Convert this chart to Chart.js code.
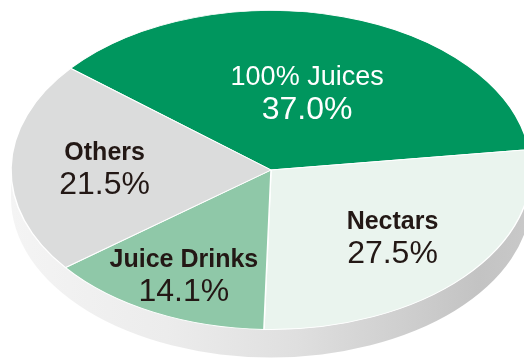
<!DOCTYPE html>
<html>
<head>
<meta charset="utf-8">
<script src="https://cdn.jsdelivr.net/npm/chart.js@4"></script>
<style>
  html, body { margin: 0; padding: 0; background: #fff; overflow: hidden; }
  #wrap { position: relative; width: 524px; height: 361px; }
</style>
</head>
<body>
<div id="wrap"><canvas id="pieChart" width="524" height="361"></canvas></div>
<script>
// juice market share, tilted pie

const categories = ['100% Juices', 'Nectars', 'Juice Drinks', 'Others'];
const shares = [37.0, 27.5, 14.1, 21.5];

const sliceColors = ['#00965e', '#eaf4ee', '#8fc8a8', '#dbdcdc'];
const textColors = ['#ffffff', '#231815', '#231815', '#231815'];
const nameFonts = ['normal 27px', 'bold 25px', 'bold 25px', 'bold 25px'];
const labelRadius = [0.5, 0.63, 0.74, 0.64]; // fraction of radius along mid angle

const tilt = 159.5 / 260;  // vertical squash of the disc
const depth = 28;          // thickness of the side, px

const tiltPlugin = {
  id: 'tilt',
  beforeDatasetsDraw(chart) {
    const arc = chart.getDatasetMeta(0).data[0];
    const { x, y, outerRadius: r } = arc;
    const ctx = chart.ctx;
    ctx.save();
    ctx.translate(x, y);
    ctx.scale(1, tilt);
    ctx.translate(-x, -y);

    // side band of the disc
    const d = depth / tilt;
    const g = ctx.createLinearGradient(x - r, 0, x + r, 0);
    g.addColorStop(0, '#f4f4f4');
    g.addColorStop(0.3, '#ececec');
    g.addColorStop(0.55, '#dfdfdf');
    g.addColorStop(0.9, '#c3c3c3');
    g.addColorStop(1, '#c9c9c9');
    ctx.fillStyle = g;
    ctx.beginPath();
    ctx.arc(x, y, r, 0, Math.PI);
    ctx.arc(x, y + d, r, Math.PI, 0, true);
    ctx.closePath();
    ctx.fill();
  },
  afterDatasetsDraw(chart) {
    const ctx = chart.ctx;
    ctx.restore();

    const meta = chart.getDatasetMeta(0);
    ctx.save();
    ctx.textAlign = 'center';
    ctx.textBaseline = 'alphabetic';
    meta.data.forEach((arc, i) => {
      const mid = (arc.startAngle + arc.endAngle) / 2;
      const rr = arc.outerRadius * labelRadius[i];
      const px = arc.x + Math.cos(mid) * rr;
      const py = arc.y + Math.sin(mid) * rr * tilt;
      ctx.fillStyle = textColors[i];
      ctx.font = nameFonts[i] + ' "Liberation Sans", Arial, sans-serif';
      ctx.fillText(categories[i], px, py - 8);
      ctx.font = '32px "Liberation Sans", Arial, sans-serif';
      ctx.fillText(shares[i].toFixed(1) + '%', px, py + 26);
    });
    ctx.restore();
  }
};

const chart = new Chart(document.getElementById('pieChart'), {
  type: 'pie',
  data: {
    labels: categories,
    datasets: [{
      data: shares,
      backgroundColor: sliceColors,
      borderColor: '#ffffff',
      borderWidth: 1.5,
      clip: false
    }]
  },
  options: {
    responsive: false,
    animation: false,
    rotation: -50.4,
    radius: 260,
    layout: {
      padding: { left: 18, right: 0, top: 0, bottom: 21 }
    },
    plugins: {
      legend: { display: false },
      tooltip: { enabled: false }
    }
  },
  plugins: [tiltPlugin]
});
</script>
</body>
</html>
